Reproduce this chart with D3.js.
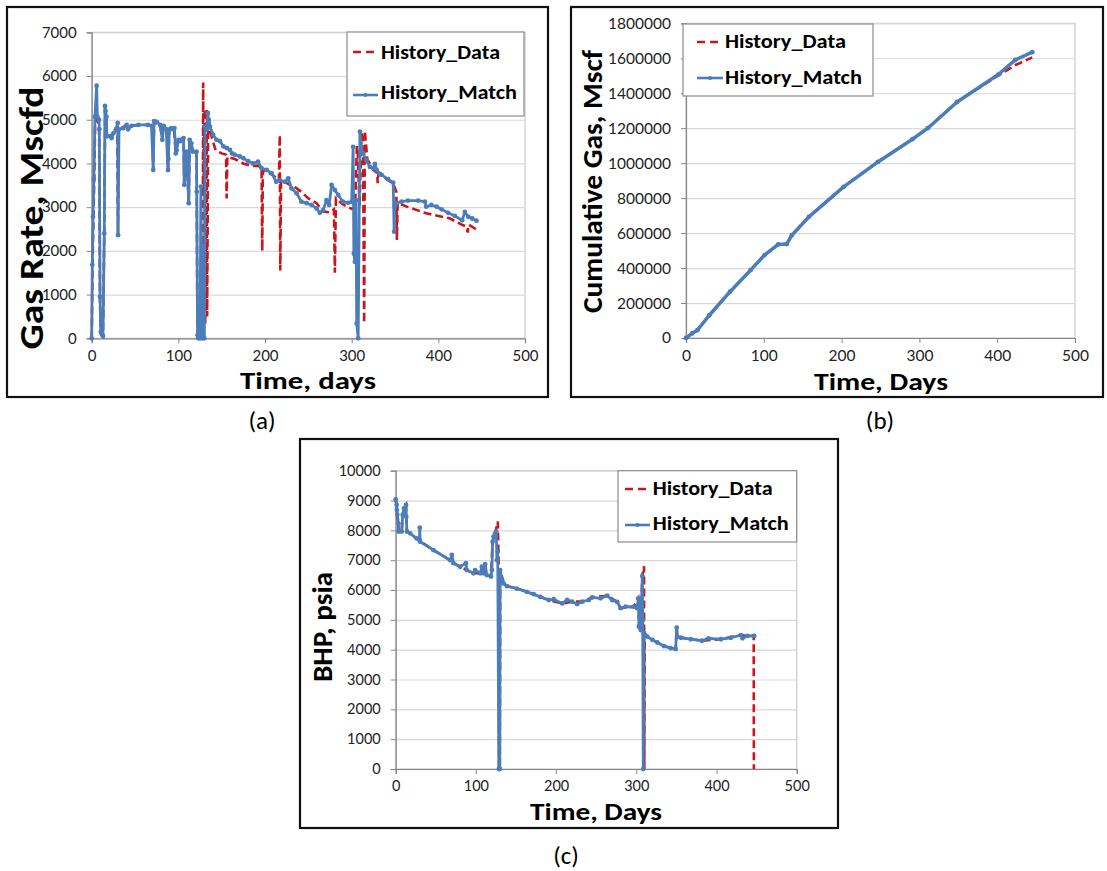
<!DOCTYPE html>
<html><head><meta charset="utf-8">
<script src="https://cdn.jsdelivr.net/npm/d3@7"></script>
<style>
body{margin:0;background:#fff}
text{font-family:Calibri,Carlito,Lato,"Open Sans",sans-serif}
</style>
</head><body>
<svg id="chart" width="1107" height="871"></svg>
<script>
// ---------- data ----------
const timeTicks = [0,100,200,300,400,500];
const rateTicks = [0,1000,2000,3000,4000,5000,6000,7000];
const cumTicks = [0,200000,400000,600000,800000,1000000,1200000,1400000,1600000,1800000];
const bhpTicks = [0,1000,2000,3000,4000,5000,6000,7000,8000,9000,10000];
const seriesNames = ["History_Data","History_Match"];
const panelLabels = ["(a)","(b)","(c)"];

// (a) Gas rate, Mscfd  [day, value]
const rateHistoryData = [[0,0],[1,1700],[3,3700],[4,5000],[5.5,5000],[7,4950],[8.5,4900],[9.6,900],[10.5,100],[13,50],[14.5,2400],[15.5,5150],[17,4700],[21,4620],[25,4690],[29.5,4850],[30.3,2400],[31,4780],[40,4870],[55,4880],[65,4880],[70,4860],[71,3850],[72,4950],[79,4880],[81.5,4540],[83,4850],[87,4780],[88,3850],[89.5,4780],[95,4800],[97,4230],[100,4540],[106,4580],[106.8,3510],[109.5,4270],[112,3090],[113,4540],[117,4270],[121,4270],[122,0],[128,0],[128.6,5850],[129.2,3300],[130.4,5250],[131,300],[132.6,5250],[133.2,500],[134.5,5200],[136.5,4750],[140,4500],[143,4300],[150,4230],[155,4200],[155.7,3200],[156.5,4150],[165,4100],[175,4000],[185,3940],[192,3950],[196,3900],[196.8,2000],[197.5,3850],[210,3720],[216,3600],[217,4650],[217.6,1550],[218.5,3620],[225,3550],[235,3450],[242,3350],[250,3200],[259.5,3090],[267,2900],[275,2880],[279.5,2950],[280.6,1500],[281.8,3200],[290,3060],[300,2960],[304,3000],[306,4400],[307,4300],[309,3000],[311.5,4700],[313,4500],[314.4,350],[315.2,4750],[318,4100],[325,3850],[329.5,3780],[330,3550],[331,3780],[340,3650],[348,3530],[351.5,3350],[352.2,2250],[353,3100],[365,3000],[386,2860],[400,2800],[413,2745],[428,2590],[432,2560],[434,2420],[434.8,2600],[440,2540],[443,2500],[445,2480]];
const rateHistoryMatch = [[0,0],[0.7,1680],[1.5,2780],[2.5,3650],[3.8,5070],[5.7,5780],[6.5,5070],[8.4,5000],[8.8,4780],[9.6,950],[10.5,150],[12.3,75],[13,50],[14.5,2400],[15.3,5315],[16,5200],[17,5070],[17.5,4620],[21,4620],[23,4580],[25,4690],[28,4780],[30,4925],[30.4,2360],[31.5,4780],[36.5,4810],[40.3,4880],[42,4780],[46,4860],[54,4880],[65,4880],[69,4860],[71,3850],[72,4970],[75,4950],[79,4880],[81.5,4540],[83,4860],[86,4780],[88,3850],[88.5,4100],[89.5,4780],[91.7,4810],[94,4780],[95.5,4810],[97,4230],[98,4300],[100,4540],[102,4510],[104,4540],[106,4580],[106.8,3510],[107.5,3930],[109.5,4270],[112,3090],[113,4540],[115,4460],[117,4270],[121,4270],[121.2,3350],[122.2,70],[123,0],[125,0],[126,3470],[127.5,0],[128.7,2100],[130,0],[130.8,4840],[133,4780],[133.8,5150],[135,5000],[136.5,4840],[140,4660],[144,4540],[148,4510],[152,4390],[156,4350],[159.5,4310],[162,4230],[165,4200],[171,4160],[175,4120],[180.6,4050],[186,4000],[192,4040],[196,3890],[202,3850],[207.6,3780],[213,3580],[217,3620],[223,3580],[226.8,3660],[230.5,3430],[236.5,3320],[242,3125],[248,3090],[253.7,3050],[259.5,2970],[263.3,2870],[267,2930],[271,3160],[274,3050],[276.8,3510],[280.6,3390],[284.4,3280],[290,3125],[296,3100],[300,3125],[301.7,4380],[302.5,1940],[303.7,1750],[305,3160],[305.8,340],[307.5,0],[309.5,4730],[311,4380],[313.3,4230],[317,4070],[321,3920],[325,3890],[326.8,3990],[328.8,3850],[332.6,3760],[334.5,3740],[342,3640],[347.9,3560],[349,2440],[349.7,3010],[351.7,3090],[357.6,3125],[365,3150],[376.7,3150],[384.5,3125],[386,3010],[392,3050],[398,3010],[403.7,2950],[411.3,2870],[419,2800],[427.5,2700],[430.6,2890],[434.5,2780],[439,2740],[444,2690]];

// (b) Cumulative gas, Mscf
const cumHistoryData = [[0,0],[8,27000],[14.6,45000],[30,130000],[56.6,265000],[83,388000],[100.8,474000],[118.5,535000],[129.5,537000],[136,588000],[158,693000],[202.5,864000],[246.7,1007000],[291,1137000],[310.8,1200000],[348.4,1350000],[401,1500000],[423,1560000],[445,1605000]];
const cumHistoryMatch = [[0,0],[8,27000],[14.6,45000],[30,130000],[56.6,265000],[83,388000],[100.8,474000],[118.5,535000],[129.5,537000],[136,588000],[158,693000],[202.5,864000],[246.7,1007000],[291,1137000],[310.8,1200000],[348.4,1350000],[401.4,1507000],[423,1590000],[445,1635000]];

// (c) BHP, psia
const bhpHistoryData = [[0,9000],[1.2,8850],[2,8520],[3.3,8235],[3.6,7960],[7.5,7960],[8.7,8520],[10.4,8740],[12.9,8850],[13.2,8460],[14,7960],[18,7900],[26,7730],[30,7650],[47,7340],[67.9,7000],[72,6900],[80.4,6780],[88.6,6670],[97,6560],[105.4,6560],[113.6,6500],[118.8,6450],[120.8,7620],[124,7900],[127.3,8300],[128.3,6900],[128.8,0],[129.8,0],[130.3,6700],[134.6,6220],[138.8,6130],[151,6050],[163.5,5940],[172,5860],[180.4,5770],[190.8,5665],[207.5,5550],[220,5610],[232.5,5610],[245,5750],[263.8,5810],[276.2,5600],[280.4,5390],[297,5440],[302.5,5720],[305.5,4660],[307.5,6470],[309.6,6800],[310,0],[310.5,4550],[313.7,4440],[320,4330],[334.5,4120],[349.1,4020],[350.4,4740],[351,4440],[367.9,4350],[381.8,4300],[405.4,4350],[430.4,4490],[438.7,4460],[446.4,4460],[446.6,0]];
const bhpHistoryMatch = [[0,9040],[1.2,8850],[1.5,8680],[2,8520],[3.3,8235],[3.6,7960],[7.5,7960],[8.7,8520],[10.4,8740],[12.9,8850],[13.2,8460],[14,7960],[18,7900],[26,7730],[29.6,7680],[30,8090],[30.5,7620],[47,7340],[67.9,7000],[70,7180],[72,6900],[80.4,6780],[87.5,6900],[88.6,6670],[97,6560],[99,6670],[105.4,6560],[107.4,6780],[109.5,6560],[111.6,6870],[113.6,6500],[118.8,6450],[120,6670],[120.8,7620],[122,7790],[124,7900],[125.4,7960],[126.2,7000],[127.2,7290],[128.6,0],[129.8,0],[130.2,6670],[132.6,6340],[134.6,6220],[138.8,6130],[151,6050],[163.5,5940],[172,5860],[180.4,5770],[190.8,5665],[197,5690],[207.5,5550],[213.8,5665],[220,5610],[226.2,5530],[232.5,5610],[240.8,5665],[245,5750],[255.4,5720],[263.8,5810],[270,5660],[276.2,5600],[280.4,5390],[286.6,5440],[297,5440],[301,5390],[302.5,5720],[303.2,4770],[304,5100],[304.9,5665],[305.5,4660],[307.5,6470],[308,4990],[308.7,0],[309.6,4550],[313.7,4440],[320,4330],[326.2,4240],[334.5,4120],[342.9,4050],[349.1,4020],[350.4,4740],[351,4440],[355.6,4400],[367.9,4350],[381.8,4300],[390,4380],[405.4,4350],[417.9,4400],[430.4,4490],[432.5,4380],[438.7,4460],[447,4460]];

// ---------- drawing ----------
const svg = d3.select("#chart");
const RED = "#C8161D", BLUE = "#4A7EBB";

function panel(cfg){
  const g = svg.append("g");
  g.append("rect").attr("x",cfg.frame[0]).attr("y",cfg.frame[1])
    .attr("width",cfg.frame[2]-cfg.frame[0]).attr("height",cfg.frame[3]-cfg.frame[1])
    .attr("fill","#fff").attr("stroke","#111").attr("stroke-width",2.2);
  const x = d3.scaleLinear().domain([0,500]).range([cfg.px0,cfg.px1]);
  const y = d3.scaleLinear().domain([0,cfg.ymax]).range([cfg.py0,cfg.py1]);
  g.append("rect").attr("x",cfg.px0).attr("y",cfg.py1).attr("width",cfg.px1-cfg.px0)
    .attr("height",cfg.py0-cfg.py1).attr("fill","none").attr("stroke","#BFBFBF").attr("stroke-width",1);
  const grid = g.append("g").attr("transform",`translate(${cfg.px0},0)`)
    .call(d3.axisLeft(y).tickValues(cfg.yTicks).tickSize(-(cfg.px1-cfg.px0)).tickFormat(""));
  grid.select(".domain").remove();
  grid.selectAll("line").attr("stroke","#D9D9D9").attr("stroke-width",1.2);
  const ya = g.append("g").attr("transform",`translate(${cfg.px0},0)`)
    .call(d3.axisLeft(y).tickValues(cfg.yTicks).tickSize(5).tickPadding(10).tickFormat(d3.format("d")));
  ya.select(".domain").attr("stroke","#868686").attr("stroke-width",1.2);
  ya.selectAll("line").attr("stroke","#868686");
  ya.selectAll("text").attr("font-size",cfg.tickFont).attr("fill","#222").style("font-family","Lato");
  const xa = g.append("g").attr("transform",`translate(0,${cfg.py0})`)
    .call(d3.axisBottom(x).tickValues(timeTicks).tickSize(5).tickPadding(7).tickFormat(d3.format("d")));
  xa.select(".domain").attr("stroke","#868686").attr("stroke-width",1.2);
  xa.selectAll("line").attr("stroke","#868686");
  xa.selectAll("text").attr("font-size",cfg.tickFont).attr("fill","#222").style("font-family","Lato");
  const line = d3.line().x(d=>x(d[0])).y(d=>y(d[1]));
  g.append("path").datum(cfg.dataSeries).attr("d",line).attr("fill","none")
    .attr("stroke",RED).attr("stroke-width",2.6).attr("stroke-dasharray","8,4");
  g.append("path").datum(cfg.matchSeries).attr("d",line).attr("fill","none")
    .attr("stroke",BLUE).attr("stroke-width",cfg.blueW).attr("stroke-linejoin","round");
  g.append("g").selectAll("circle").data(cfg.matchSeries).join("circle")
    .attr("cx",d=>x(d[0])).attr("cy",d=>y(d[1])).attr("r",2.4).attr("fill",BLUE);
  g.append("text").attr("x",cfg.xt[0]).attr("y",cfg.xt[1]).attr("text-anchor","middle")
    .attr("font-size",cfg.xt[3]).attr("font-weight","bold").attr("fill","#000")
    .attr("textLength",cfg.xt[2]).attr("lengthAdjust","spacingAndGlyphs").text(cfg.xTitle);
  g.append("text").attr("transform",`translate(${cfg.yt[0]},${cfg.yt[1]}) rotate(-90)`)
    .attr("text-anchor","middle").attr("font-size",cfg.yt[3]).attr("font-weight","bold").attr("fill","#000")
    .attr("textLength",cfg.yt[2]).attr("lengthAdjust","spacingAndGlyphs").text(cfg.yTitle);
  const L = cfg.legend;
  g.append("rect").attr("x",L.x).attr("y",L.y).attr("width",L.w).attr("height",L.h)
    .attr("fill","#fff").attr("stroke","#8C8C8C").attr("stroke-width",1.2);
  L.rows.forEach((r,i)=>{
    const isData = i===0;
    g.append("line").attr("x1",L.lx0).attr("x2",L.lx1).attr("y1",r[0]).attr("y2",r[0])
      .attr("stroke",isData?RED:BLUE).attr("stroke-width",2.6)
      .attr("stroke-dasharray",isData?"8,5":null);
    if(!isData) g.append("circle").attr("cx",(L.lx0+L.lx1)/2).attr("cy",r[0]).attr("r",2.1).attr("fill",BLUE);
    g.append("text").attr("x",L.tx).attr("y",r[1]).attr("font-size",21).attr("font-weight","bold")
      .attr("fill","#000").attr("textLength",r[2]).attr("lengthAdjust","spacingAndGlyphs").text(seriesNames[i]);
  });
  svg.append("text").attr("x",cfg.cap[0]).attr("y",cfg.cap[1]).attr("text-anchor","middle")
    .attr("font-size",25).attr("fill","#000").text(cfg.capText);
}

panel({frame:[7,7,548,397], px0:91.7, px1:525, py0:338.3, py1:32.3, ymax:7000, yTicks:rateTicks, tickFont:15, blueW:2.8,
  dataSeries:rateHistoryData, matchSeries:rateHistoryMatch,
  xTitle:"Time, days", xt:[308,389,136,24], yTitle:"Gas Rate, Mscfd", yt:[43,218,263,35],
  legend:{x:347,y:32,w:177,h:84,lx0:353,lx1:378,tx:381,rows:[[52,59,119],[95,99,136]]},
  cap:[262,429], capText:panelLabels[0]});

panel({frame:[571,7,1103,397], px0:686, px1:1075, py0:338, py1:23.3, ymax:1800000, yTicks:cumTicks, tickFont:15.5, blueW:3.5,
  dataSeries:cumHistoryData, matchSeries:cumHistoryMatch,
  xTitle:"Time, Days", xt:[881,390,134,24], yTitle:"Cumulative Gas, Mscf", yt:[602,181.5,263,28],
  legend:{x:683,y:24,w:190,h:72,lx0:697,lx1:723,tx:725,rows:[[42,48,121],[78,84,137]]},
  cap:[880,429], capText:panelLabels[1]});

panel({frame:[300,439,838,828], px0:395.7, px1:796.7, py0:769, py1:470.7, ymax:10000, yTicks:bhpTicks, tickFont:14.5, blueW:2.8,
  dataSeries:bhpHistoryData, matchSeries:bhpHistoryMatch,
  xTitle:"Time, Days", xt:[596,820,132,24], yTitle:"BHP, psia", yt:[332,627,110,28],
  legend:{x:618,y:470.7,w:178.7,h:71.3,lx0:625,lx1:650,tx:652.7,rows:[[489,495,120],[525,530,136]]},
  cap:[566,864], capText:panelLabels[2]});
</script>
</body></html>
